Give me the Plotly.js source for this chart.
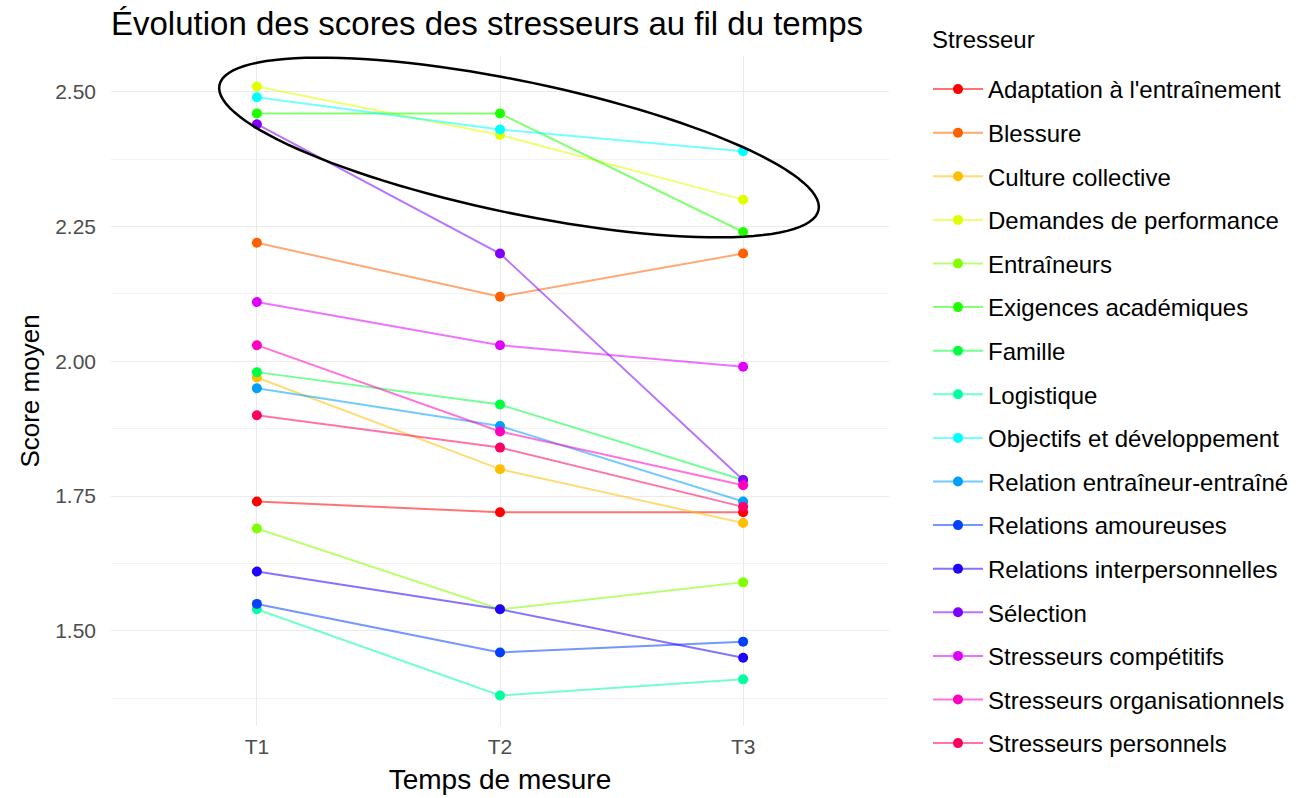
<!DOCTYPE html>
<html>
<head>
<meta charset="utf-8">
<script src="https://cdn.plot.ly/plotly-3.0.1.min.js"></script>
<style>html,body{margin:0;padding:0;background:#fff;}#chart{width:1301px;height:798px;}</style>
</head>
<body>
<div id="chart"></div>
<script>
const timePoints = ['T1', 'T2', 'T3'];
const stressors = [
  "Adaptation à l'entraînement", 'Blessure', 'Culture collective', 'Demandes de performance',
  'Entraîneurs', 'Exigences académiques', 'Famille', 'Logistique',
  'Objectifs et développement', 'Relation entraîneur-entraîné', 'Relations amoureuses',
  'Relations interpersonnelles', 'Sélection', 'Stresseurs compétitifs',
  'Stresseurs organisationnels', 'Stresseurs personnels'
];
const scoresT1 = [1.74, 2.22, 1.97, 2.51, 1.69, 2.46, 1.98, 1.54, 2.49, 1.95, 1.55, 1.61, 2.44, 2.11, 2.03, 1.90];
const scoresT2 = [1.72, 2.12, 1.80, 2.42, 1.54, 2.46, 1.92, 1.38, 2.43, 1.88, 1.46, 1.54, 2.20, 2.03, 1.87, 1.84];
const scoresT3 = [1.72, 2.20, 1.70, 2.30, 1.59, 2.24, 1.78, 1.41, 2.39, 1.74, 1.48, 1.45, 1.78, 1.99, 1.77, 1.73];
const colors = ['#FF0000', '#FF6000', '#FFBF00', '#DFFF00', '#80FF00', '#20FF00', '#00FF40', '#00FF9F',
  '#00FFFF', '#009FFF', '#0040FF', '#2000FF', '#8000FF', '#DF00FF', '#FF00BF', '#FF0060'];
const legendTitle = 'Stresseur';

function hexToRgba(h, a) {
  const r = parseInt(h.slice(1, 3), 16), g = parseInt(h.slice(3, 5), 16), b = parseInt(h.slice(5, 7), 16);
  return 'rgba(' + r + ',' + g + ',' + b + ',' + a + ')';
}

const traces = stressors.map((name, i) => ({
  type: 'scatter',
  mode: 'lines+markers',
  name: name,
  legendgroup: 'g' + i,
  x: timePoints,
  y: [scoresT1[i], scoresT2[i], scoresT3[i]],
  line: {color: hexToRgba(colors[i], 0.55), width: 2},
  marker: {color: colors[i], size: 10},
  hoverinfo: 'x+y+name'
}));

// plot area in pixels
const L = 111, R = 889, T = 56, B = 726;
const PW = R - L, PH = B - T;
// annotation ellipse (rotated) in pixel space -> paper coords
const cx = 519, cy = 147.5, ea = 306, eb = 66, th = 11.78 * Math.PI / 180;
let path = '';
for (let k = 0; k <= 120; k++) {
  const t = 2 * Math.PI * k / 120;
  const px = cx + ea * Math.cos(th) * Math.cos(t) - eb * Math.sin(th) * Math.sin(t);
  const py = cy + ea * Math.sin(th) * Math.cos(t) + eb * Math.cos(th) * Math.sin(t);
  const u = (px - L) / PW, v = 1 - (py - T) / PH;
  path += (k === 0 ? 'M' : 'L') + u.toFixed(5) + ',' + v.toFixed(5) + ' ';
}
path += 'Z';

const font = 'Liberation Sans, Arial, sans-serif';
const layout = {
  width: 1301, height: 798,
  margin: {l: L, r: 1301 - R, t: T, b: 798 - B, autoexpand: false},
  paper_bgcolor: '#fff', plot_bgcolor: '#fff',
  font: {family: font, color: '#000'},
  title: {text: 'Évolution des scores des stresseurs au fil du temps', x: 0.0, xref: 'paper', xanchor: 'left',
    y: 0.97, yanchor: 'middle', font: {size: 33, color: '#000', family: font}},
  xaxis: {
    type: 'category', range: [-0.6, 2.6],
    showgrid: true, gridcolor: '#ebebeb', gridwidth: 1.2,
    zeroline: false, showline: false, ticks: '', ticklabelstandoff: 6,
    tickfont: {size: 21, color: '#4d4d4d'},
    title: {text: 'Temps de mesure', font: {size: 28, color: '#000'}, standoff: 12}
  },
  yaxis: {
    range: [1.3235, 2.5665], tick0: 1.5, dtick: 0.25, tickformat: '.2f',
    showgrid: true, gridcolor: '#ebebeb', gridwidth: 1.2,
    minor: {tick0: 1.375, dtick: 0.25, showgrid: true, gridcolor: '#f2f2f2', gridwidth: 0.8},
    zeroline: false, showline: false, ticks: '', ticklabelstandoff: 14,
    tickfont: {size: 21, color: '#4d4d4d'},
    title: {text: 'Score moyen', font: {size: 26, color: '#000'}, standoff: 8}
  },
  legend: {
    x: (928 - L) / PW, xanchor: 'left', y: 1 + (T - 67) / PH, yanchor: 'top',
    font: {size: 24, color: '#000'},
    tracegroupgap: 9.4, itemwidth: 50, maxheight: 1000,
    bgcolor: 'rgba(0,0,0,0)'
  },
  annotations: [{text: legendTitle, xref: 'paper', yref: 'paper', x: (930 - L) / PW, y: 1 + (T - 40) / PH,
    xanchor: 'left', yanchor: 'middle', showarrow: false, font: {size: 24, color: '#000'}}],
  shapes: [{type: 'path', xref: 'paper', yref: 'paper', path: path,
    line: {color: '#000', width: 2.5}, fillcolor: 'rgba(0,0,0,0)', layer: 'above'}]
};

Plotly.newPlot('chart', traces, layout, {displayModeBar: false, responsive: false});
</script>
</body>
</html>
